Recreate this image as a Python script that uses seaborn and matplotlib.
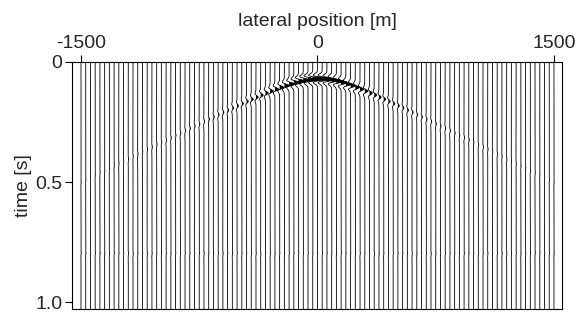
import numpy as np
import pandas as pd
import matplotlib
matplotlib.use("Agg")
import matplotlib.pyplot as plt
import seaborn as sns

# trace layout (lateral positions in m) and time axis (s)
trace_first = -1500.0
trace_last = 1500.0
trace_step = 30.0
dt = 0.002
t_max = 1.03

# diffraction event
apex_time = 0.07         # s
velocity = 3030.0        # m/s
peak_freq = 25.0         # Hz
apex_amp = 60.0          # m of deflection at the apex
decay_power = 2.0

# weak flat event
flat_time = 0.796
flat_amp = 1.5

x_ticks = [-1500, 0, 1500]
y_ticks = [0, 0.5, 1.0]
y_ticklabels = ["0", "0.5", "1.0"]


def ricker(tau, f):
    a = (np.pi * f * tau) ** 2
    return (1 - 2 * a) * np.exp(-a)


offsets = np.arange(trace_first, trace_last + 1, trace_step)
times = np.arange(0, t_max + dt / 2, dt)

rows = []
for k, x0 in enumerate(offsets):
    t_ev = np.sqrt(apex_time ** 2 + (x0 / velocity) ** 2)
    amp = apex_amp * (apex_time / t_ev) ** decay_power
    sig = amp * ricker(times - t_ev, peak_freq) + flat_amp * ricker(times - flat_time, peak_freq)
    rows.append(pd.DataFrame({"trace": k, "base": x0, "time": times, "pos": x0 + sig}))
df = pd.concat(rows, ignore_index=True)

sns.set_style("ticks")
plt.rcParams["font.family"] = ["Liberation Sans", "DejaVu Sans"]

fig = plt.figure(figsize=(5.77, 3.14), dpi=100)
ax = fig.add_axes([72 / 577, 1 - 309 / 314, 490 / 577, 247 / 314])

sns.lineplot(data=df, x="pos", y="time", units="trace", estimator=None,
             sort=False, orient="y", color="black", linewidth=0.6, ax=ax)
for k, g in df.groupby("trace"):
    ax.fill_betweenx(g["time"], g["base"], g["pos"], where=g["pos"] > g["base"],
                     color="black", linewidth=0, interpolate=True)

ax.set_xlim(-1557, 1551)
ax.set_ylim(1.029, 0)
ax.xaxis.tick_top()
ax.xaxis.set_label_position("top")
ax.set_xticks(x_ticks)
ax.set_xticklabels([str(v) for v in x_ticks])
ax.set_yticks(y_ticks)
ax.set_yticklabels(y_ticklabels)
ax.set_xlabel("lateral position [m]", fontsize=14, labelpad=7)
ax.set_ylabel("time [s]", fontsize=14, labelpad=2)
ax.tick_params(axis="both", labelsize=14, length=5, width=0.8, pad=2, color="black")
for s in ax.spines.values():
    s.set_visible(True)
    s.set_color("black")
    s.set_linewidth(0.8)

fig.savefig("out.png", dpi=100)
